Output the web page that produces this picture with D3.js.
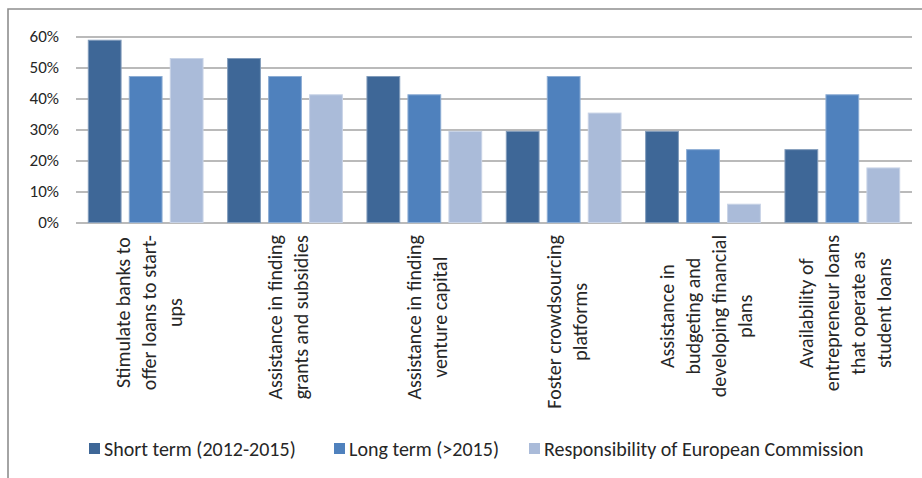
<!DOCTYPE html>
<html>
<head>
<meta charset="utf-8">
<script src="https://cdn.jsdelivr.net/npm/d3@7"></script>
<style>
  html, body { margin: 0; padding: 0; background: #fff; }
  svg { display: block; font-family: Calibri, Carlito, Lato, sans-serif; }
</style>
</head>
<body>
<div id="chart"></div>
<script>
// Support measures, share of respondents per time frame
const categories = [
  "Stimulate banks to offer loans to start-ups",
  "Assistance in finding grants and subsidies",
  "Assistance in finding venture capital",
  "Foster crowdsourcing platforms",
  "Assistance in budgeting and developing financial plans",
  "Availability of entrepreneur loans that operate as student loans"
];
const categoryLines = [
  ["Stimulate banks to", "offer loans to start-", "ups"],
  ["Assistance in finding", "grants and subsidies"],
  ["Assistance in finding", "venture capital"],
  ["Foster crowdsourcing", "platforms"],
  ["Assistance in", "budgeting and", "developing financial", "plans"],
  ["Availability of", "entrepreneur loans", "that operate as", "student loans"]
];
const seriesNames = ["Short term (2012-2015)", "Long term (>2015)", "Responsibility of European Commission"];
const shortTerm  = [0.588, 0.529, 0.471, 0.294, 0.294, 0.235];
const longTerm   = [0.471, 0.471, 0.412, 0.471, 0.235, 0.412];
const commission = [0.529, 0.412, 0.294, 0.353, 0.059, 0.176];
const yTicks = [0, 0.1, 0.2, 0.3, 0.4, 0.5, 0.6];

const seriesValues = [shortTerm, longTerm, commission];
const seriesColors = ["#3E6797", "#4F81BD", "#AABBD9"];

const FONT = "Calibri, Carlito, Lato, sans-serif";
const W = 922, H = 478;
const plot = { left: 76, right: 912, top: 36.5, bottom: 222.5 };

const svg = d3.select("#chart").append("svg")
  .attr("width", W).attr("height", H);

svg.append("rect").attr("width", W).attr("height", H).attr("fill", "#fff");

// chart frame (top and left edges)
svg.append("path")
  .attr("d", `M8,${H} L8,9 L${W},9`)
  .attr("fill", "none")
  .attr("stroke", "#8e8e8e")
  .attr("stroke-width", 1.6);

const x0 = d3.scaleBand().domain(categories).range([plot.left, plot.right]).padding(0);
const x1 = d3.scaleBand().domain(seriesNames).range([0, x0.bandwidth()])
  .paddingInner(0.2).paddingOuter(0.3);
const y = d3.scaleLinear().domain([0, 0.6]).range([plot.bottom, plot.top]);

// gridlines + percentage labels
const yAxis = svg.append("g")
  .attr("transform", `translate(${plot.left},0)`)
  .call(d3.axisLeft(y).tickValues(yTicks).tickFormat(d3.format(".0%"))
    .tickSize(-(plot.right - plot.left)).tickPadding(17));
yAxis.attr("font-family", FONT);
yAxis.select(".domain").remove();
yAxis.selectAll(".tick line").attr("stroke", "#a3a3a3").attr("stroke-width", 1.4);
yAxis.selectAll(".tick text")
  .attr("fill", "#262626")
  .attr("font-size", 17);

// bars
const rows = categories.map((c, i) => ({
  cat: c,
  vals: seriesNames.map((s, j) => ({ s, j, v: seriesValues[j][i] }))
}));

const groups = svg.append("g").selectAll("g").data(rows).join("g")
  .attr("transform", d => `translate(${x0(d.cat)},0)`);

groups.selectAll("rect").data(d => d.vals).join("rect")
  .attr("x", d => x1(d.s))
  .attr("width", x1.bandwidth())
  .attr("y", d => y(d.v))
  .attr("height", d => y(0) - y(d.v))
  .attr("fill", d => seriesColors[d.j])
  .attr("stroke", d => d3.interpolateRgb(seriesColors[d.j], "#fff")(0.35))
  .attr("stroke-width", 1);

// category axis with rotated, wrapped labels
const xAxis = svg.append("g")
  .attr("transform", `translate(0,${plot.bottom})`)
  .call(d3.axisBottom(x0).tickSize(0).tickFormat(""));
xAxis.attr("font-family", FONT);
xAxis.select(".domain").remove();

const lineH = 26, labelGap = 12.5, labelSize = 20;
xAxis.selectAll(".tick").each(function (cat) {
  const i = categories.indexOf(cat);
  const lines = categoryLines[i];
  const g = d3.select(this).append("g").attr("transform", "rotate(-90)");
  const texts = g.selectAll("text").data(lines).join("text")
    .attr("font-family", FONT)
    .attr("font-size", labelSize)
    .attr("fill", "#262626")
    .attr("text-anchor", "middle")
    .attr("dy", "0.35em")
    .attr("y", (d, k) => (k - (lines.length - 1) / 2) * lineH + 3)
    .text(d => d);
  let maxLen = 0;
  texts.each(function () { maxLen = Math.max(maxLen, this.getComputedTextLength()); });
  texts.attr("x", -labelGap - maxLen / 2);
});

// legend
const legendX = [89, 334, 529];
const legend = svg.append("g").attr("transform", "translate(0,448.5)");
const items = legend.selectAll("g").data(seriesNames).join("g")
  .attr("transform", (d, j) => `translate(${legendX[j]},0)`);
items.append("rect")
  .attr("x", 0).attr("y", -5.5).attr("width", 11).attr("height", 11)
  .attr("fill", (d, j) => seriesColors[j]);
items.append("text")
  .attr("x", 15).attr("dy", "0.35em")
  .attr("font-family", FONT)
  .attr("font-size", 20)
  .attr("fill", "#262626")
  .text(d => d);
</script>
</body>
</html>
